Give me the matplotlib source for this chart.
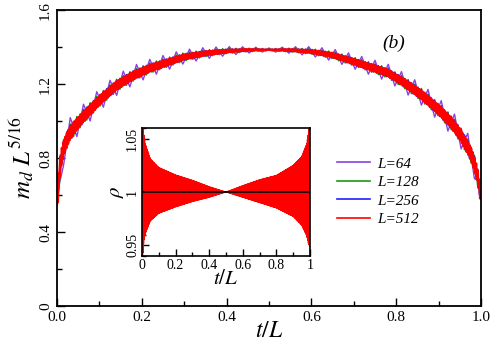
import numpy as np
import matplotlib
matplotlib.use("Agg")
import matplotlib.pyplot as plt
from matplotlib.ticker import MultipleLocator

plt.rcParams['font.family'] = ['Liberation Serif', 'DejaVu Serif']
plt.rcParams['mathtext.fontset'] = 'stix'

# ---- data ----
sizes = [64, 128, 256, 512]
colors = ['#8a3fe0', '#1a9a1a', '#2020ff', '#ff0000']
labels = ['L=64', 'L=128', 'L=256', 'L=512']
# oscillation strength of each size relative to the inset envelope, and residual amplitude
osc_scale = [2.1, 1.25, 1.12, 0.95]
osc_floor = [0.007, 0.004, 0.002, 0.0]
line_w = [1.0, 1.1, 1.1, 1.8]

# smooth part of m_d L^{5/16} vs t/L
t_knots = [0.0, 0.005, 0.01, 0.02, 0.03, 0.05, 0.07, 0.10, 0.14, 0.18, 0.22, 0.26,
           0.30, 0.35, 0.40, 0.45, 0.50, 0.55, 0.60, 0.65, 0.70, 0.74, 0.78, 0.82,
           0.86, 0.90, 0.93, 0.95, 0.97, 0.98, 0.99, 0.995, 1.0]
m_center = [0.52, 0.72, 0.80, 0.88, 0.93, 0.99, 1.04, 1.11, 1.19, 1.245, 1.285, 1.315,
            1.345, 1.365, 1.378, 1.384, 1.385, 1.383, 1.375, 1.355, 1.32, 1.29, 1.26, 1.205,
            1.14, 1.06, 0.99, 0.93, 0.85, 0.80, 0.72, 0.66, 0.58]

# inset: envelope of rho (even / odd sites)
rho_t = [0.0, 0.01, 0.02, 0.05, 0.10, 0.20, 0.30, 0.40, 0.50, 0.60, 0.70, 0.80,
         0.90, 0.95, 0.98, 0.99, 1.0]
rho_upper = [1.07, 1.055, 1.045, 1.031, 1.023, 1.016, 1.011, 1.005, 1.0, 1.006, 1.0115,
             1.0156, 1.025, 1.033, 1.045, 1.055, 1.07]
rho_lower = [0.93, 0.952, 0.961, 0.973, 0.980, 0.986, 0.991, 0.995, 1.0, 0.995, 0.990,
             0.985, 0.977, 0.969, 0.959, 0.952, 0.948]
inset_size = 512

# ---- figure ----
fig = plt.figure(figsize=(4.91, 3.44), dpi=100)
ax = fig.add_axes([57/491, 1-306/344, 424/491, 296/344])

for L, c, lab, k, fl, lw in zip(sizes, colors, labels, osc_scale, osc_floor, line_w):
    n = np.arange(L + 1)
    t = n / L
    up = (np.interp(t, rho_t, rho_upper) - 1) * k + fl
    lo = (np.interp(t, rho_t, rho_lower) - 1) * k - fl
    d = np.where(n % 2 == 0, up, lo)
    m = np.interp(t, t_knots, m_center) * (1 + d)
    ax.plot(t, m, color=c, lw=lw, label=lab)

ax.set_xlim(0, 1)
ax.set_ylim(0, 1.6)
ax.set_xticks([0, 0.2, 0.4, 0.6, 0.8, 1.0])
ax.set_xticklabels(['0.0', '0.2', '0.4', '0.6', '0.8', '1.0'])
ax.xaxis.set_minor_locator(MultipleLocator(0.1))
ax.set_yticks([0, 0.4, 0.8, 1.2, 1.6])
ax.set_yticklabels(['0', '0.4', '0.8', '1.2', '1.6'], rotation=90, va='center')
ax.yaxis.set_minor_locator(MultipleLocator(0.2))
ax.tick_params(which='both', direction='in', top=False, right=False, labelsize=11)
ax.tick_params(which='major', length=6, width=1)
ax.tick_params(which='minor', length=3.5, width=1)
for s in ax.spines.values():
    s.set_linewidth(1.3)
ax.set_xlabel(r'$t/L$', fontsize=17, labelpad=-2)
ax.set_ylabel(r'$m_d\ L^{5/16}$', fontsize=18, labelpad=2)
ax.text(0.795, 1.42, '(b)', fontsize=14, style='italic', ha='center', va='center')

leg = ax.legend(loc='upper left', bbox_to_anchor=(0.628, 0.55), frameon=False,
                handlelength=2.15, handletextpad=0.5, labelspacing=0.32,
                prop={'family': 'Liberation Serif', 'style': 'italic', 'size': 11})
for h in leg.get_lines():
    h.set_linewidth(1.2)

# ---- inset ----
ins = fig.add_axes([142/491, 1-256/344, 168/491, 128/344])
n = np.arange(inset_size + 1)
ti = n / inset_size
rho = np.where(n % 2 == 0, np.interp(ti, rho_t, rho_upper), np.interp(ti, rho_t, rho_lower))
ins.plot(ti, rho, color='#ff0000', lw=0.8)
ins.axhline(1.0, color='black', lw=1.2)
ins.set_xlim(0, 1)
ins.set_ylim(0.94, 1.06)
ins.set_xticks([0, 0.2, 0.4, 0.6, 0.8, 1.0])
ins.set_xticklabels(['0', '0.2', '0.4', '0.6', '0.8', '1'])
ins.xaxis.set_minor_locator(MultipleLocator(0.1))
ins.set_yticks([0.95, 1.0, 1.05])
ins.set_yticklabels(['0.95', '1', '1.05'], rotation=90, va='center')
ins.yaxis.set_minor_locator(MultipleLocator(0.01))
ins.tick_params(which='both', direction='in', top=False, right=False, labelsize=10, pad=2)
ins.tick_params(which='major', length=5, width=1)
ins.tick_params(which='minor', length=3, width=1)
for s in ins.spines.values():
    s.set_linewidth(1.2)
ins.set_xlabel(r'$t/L$', fontsize=15, labelpad=-1)
ins.set_ylabel(r'$\rho$', fontsize=15, labelpad=0)

fig.savefig('out.png', dpi=100)
